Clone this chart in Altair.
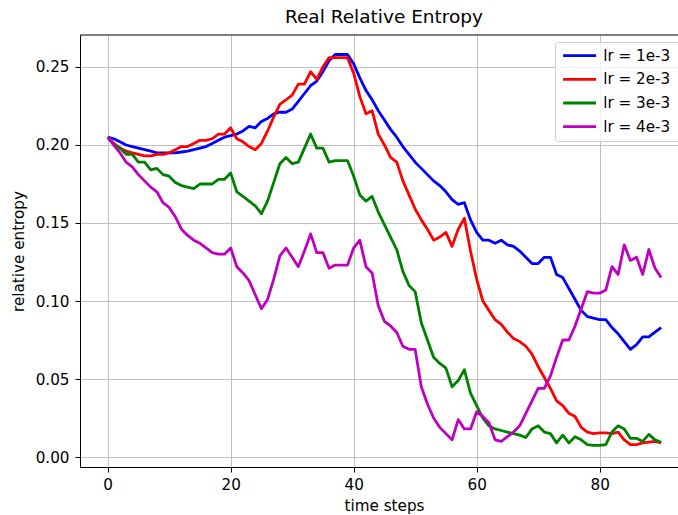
import altair as alt
import pandas as pd

time_steps = list(range(91))

lr_1e3 = [0.205, 0.204, 0.202, 0.200, 0.199, 0.198, 0.197, 0.196, 0.195, 0.195,
          0.195, 0.195, 0.1955, 0.196, 0.197, 0.198, 0.199, 0.201, 0.203, 0.205,
          0.206, 0.207, 0.209, 0.212, 0.211, 0.215, 0.217, 0.220, 0.221, 0.221,
          0.223, 0.228, 0.233, 0.238, 0.241, 0.247, 0.254, 0.258, 0.258, 0.258,
          0.252, 0.243, 0.235, 0.229, 0.222, 0.216, 0.210, 0.205, 0.199, 0.194,
          0.189, 0.185, 0.181, 0.177, 0.174, 0.170, 0.165, 0.162, 0.163, 0.152,
          0.144, 0.139, 0.139, 0.137, 0.139, 0.136, 0.135, 0.132, 0.128, 0.124,
          0.124, 0.128, 0.128, 0.117, 0.115, 0.108, 0.101, 0.094, 0.090, 0.089,
          0.088, 0.088, 0.083, 0.079, 0.074, 0.069, 0.072, 0.077, 0.077, 0.080,
          0.083]

lr_2e3 = [0.205, 0.201, 0.198, 0.196, 0.195, 0.194, 0.193, 0.193, 0.194, 0.194,
          0.195, 0.197, 0.199, 0.199, 0.201, 0.203, 0.203, 0.204, 0.207, 0.207,
          0.211, 0.204, 0.202, 0.199, 0.197, 0.201, 0.209, 0.218, 0.226, 0.229,
          0.232, 0.239, 0.239, 0.247, 0.242, 0.250, 0.256, 0.256, 0.256, 0.256,
          0.246, 0.231, 0.220, 0.222, 0.207, 0.200, 0.192, 0.189, 0.177, 0.168,
          0.159, 0.152, 0.146, 0.139, 0.141, 0.144, 0.135, 0.146, 0.153, 0.132,
          0.114, 0.100, 0.094, 0.088, 0.085, 0.080, 0.076, 0.074, 0.071, 0.066,
          0.058, 0.051, 0.044, 0.036, 0.033, 0.028, 0.026, 0.019, 0.016, 0.015,
          0.0155, 0.0155, 0.015, 0.016, 0.011, 0.008, 0.008, 0.009, 0.0095, 0.010,
          0.009]

lr_3e3 = [0.205, 0.200, 0.198, 0.194, 0.194, 0.189, 0.189, 0.184, 0.185, 0.181,
          0.180, 0.176, 0.174, 0.173, 0.172, 0.175, 0.175, 0.175, 0.178, 0.178,
          0.182, 0.170, 0.167, 0.164, 0.161, 0.156, 0.164, 0.176, 0.188, 0.192,
          0.188, 0.189, 0.198, 0.207, 0.198, 0.198, 0.189, 0.190, 0.190, 0.190,
          0.180, 0.168, 0.164, 0.167, 0.157, 0.149, 0.141, 0.133, 0.119, 0.110,
          0.106, 0.086, 0.075, 0.064, 0.060, 0.057, 0.045, 0.049, 0.056, 0.041,
          0.033, 0.025, 0.020, 0.018, 0.017, 0.016, 0.015, 0.014, 0.0125, 0.018,
          0.020, 0.016, 0.015, 0.009, 0.014, 0.009, 0.013, 0.011, 0.008, 0.0075,
          0.0075, 0.008, 0.016, 0.020, 0.018, 0.012, 0.012, 0.010, 0.0145, 0.011,
          0.0095]

lr_4e3 = [0.205, 0.200, 0.195, 0.189, 0.186, 0.181, 0.177, 0.173, 0.170, 0.163,
          0.160, 0.154, 0.146, 0.142, 0.139, 0.137, 0.134, 0.131, 0.130, 0.130,
          0.134, 0.122, 0.118, 0.113, 0.104, 0.095, 0.101, 0.114, 0.129, 0.134,
          0.128, 0.122, 0.132, 0.143, 0.131, 0.131, 0.121, 0.123, 0.123, 0.123,
          0.134, 0.139, 0.122, 0.118, 0.097, 0.087, 0.084, 0.080, 0.071, 0.069,
          0.069, 0.045, 0.034, 0.025, 0.019, 0.015, 0.011, 0.024, 0.018, 0.018,
          0.029, 0.026, 0.022, 0.011, 0.010, 0.013, 0.016, 0.020, 0.028, 0.036,
          0.044, 0.044, 0.052, 0.064, 0.075, 0.075, 0.084, 0.095, 0.106, 0.105,
          0.105, 0.107, 0.122, 0.117, 0.136, 0.126, 0.128, 0.117, 0.133, 0.121,
          0.115]

series_names = ["lr = 1e-3", "lr = 2e-3", "lr = 3e-3", "lr = 4e-3"]
series_values = [lr_1e3, lr_2e3, lr_3e3, lr_4e3]
series_colors = ["#0000ff", "#ff0000", "#008000", "#bf00bf"]
x_ticks = [0, 20, 40, 60, 80]
y_ticks = [0.0, 0.05, 0.10, 0.15, 0.20, 0.25]

rows = []
for name, vals in zip(series_names, series_values):
    for t, v in zip(time_steps, vals):
        rows.append({"series": name, "t": t, "value": v, "order": series_names.index(name)})
df = pd.DataFrame(rows)

FONT = "DejaVu Sans"
W, H = 598, 432
LABEL_SIZE = 15.2

lines = alt.Chart(df).mark_line(strokeWidth=2.8, strokeJoin="round").encode(
    x=alt.X("t:Q",
            scale=alt.Scale(domain=[-4.5, 92.74], nice=False, zero=False),
            axis=alt.Axis(values=x_ticks, title="time steps", format="d",
                          titleX=304, titleY=38, titleBaseline="middle")),
    y=alt.Y("value:Q",
            scale=alt.Scale(domain=[-0.0064, 0.2705], nice=False, zero=False),
            axis=alt.Axis(values=y_ticks, format=".2f", title="relative entropy",
                          titleX=-62, titleY=216, titleBaseline="middle", titleAlign="center")),
    color=alt.Color("series:N",
                    scale=alt.Scale(domain=series_names, range=series_colors),
                    legend=alt.Legend(orient="none", legendX=475, legendY=7, title=None,
                                      symbolType="M-3,0H3", symbolSize=121,
                                      symbolOffset=11,
                                      symbolStrokeWidth=2.8, labelFontSize=LABEL_SIZE,
                                      labelFont=FONT, labelColor="black",
                                      labelExpr="datum.label + '\u2800\u2800'",
                                      labelOffset=16, padding=6,
                                      rowPadding=7.7,
                                      fillColor="rgba(255,255,255,0.8)",
                                      strokeColor="#cccccc", cornerRadius=3)),
    detail="order:O",
)

frame_df = pd.DataFrame({"k": [0]})
top_rule = alt.Chart(frame_df).mark_rule(color="black", strokeWidth=1).encode(
    x=alt.value(0), x2=alt.value(W), y=alt.value(0)
)

chart = alt.layer(lines, top_rule).properties(
    width=W, height=H,
    title=alt.Title("Real Relative Entropy", fontSize=18.5, font=FONT,
                    fontWeight="normal", color="black", offset=8, dx=5),
    autosize=alt.AutoSizeParams(type="none"),
    padding={"left": 80, "top": 35, "right": 0, "bottom": 48},
    background="white",
).configure_view(stroke=None).configure_axis(
    labelFont=FONT, titleFont=FONT, labelFontSize=LABEL_SIZE, titleFontSize=LABEL_SIZE,
    labelColor="black", titleColor="black", titleFontWeight="normal",
    domainColor="black", domainWidth=1, tickColor="black", tickSize=5, tickWidth=1,
    gridColor="#b0b0b0", gridWidth=0.8, labelPadding=5,
).configure_axisY(labelPadding=6)

chart.save("out.html", embed_options={"renderer": "svg", "actions": False})
